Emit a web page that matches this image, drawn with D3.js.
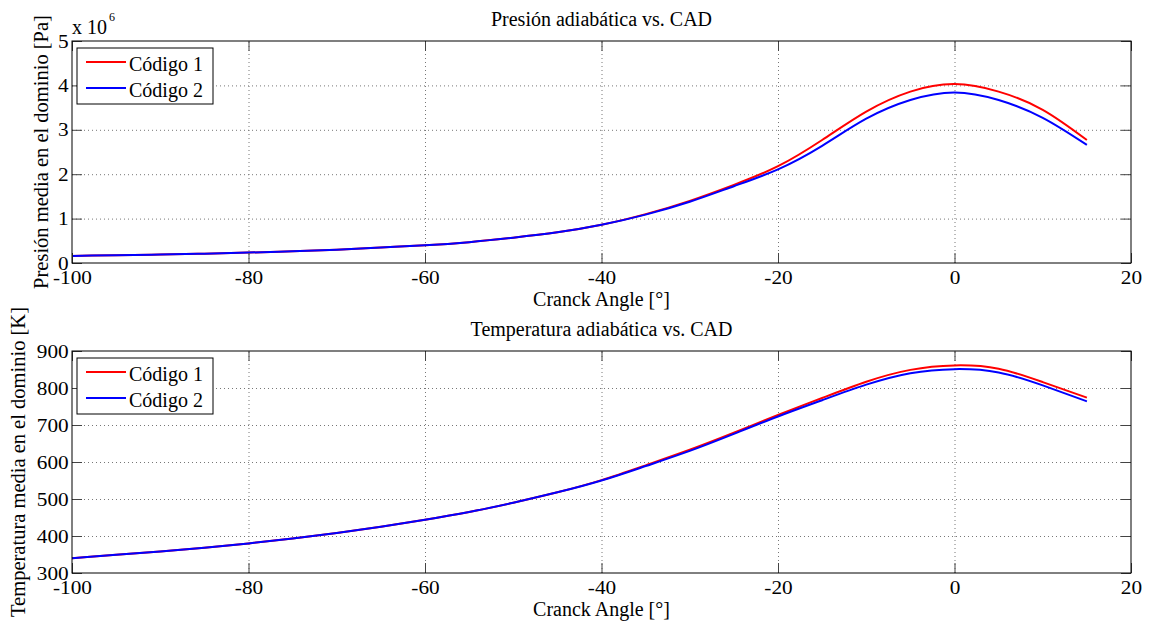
<!DOCTYPE html>
<html>
<head>
<meta charset="utf-8">
<script src="https://cdn.jsdelivr.net/npm/d3@7"></script>
<style>
  body { margin: 0; background: #fff; }
  svg text { font-family: "Liberation Serif", "Times New Roman", serif !important; fill: #000; }
</style>
</head>
<body>
<svg id="chart" width="1149" height="623"></svg>
<script>
// crank angle [deg]
const crankAngle = [-100, -95, -90, -85, -80, -75, -70, -65, -60, -55, -50, -45, -40, -35, -30, -25, -20, -15, -10, -5, 0, 5, 10, 15];
// mean pressure, x 10^6 Pa
const presionCodigo1 = [0.16, 0.175, 0.19, 0.21, 0.235, 0.265, 0.30, 0.35, 0.40, 0.47, 0.57, 0.69, 0.86, 1.10, 1.40, 1.76, 2.18, 2.77, 3.41, 3.86, 4.03, 3.86, 3.45, 2.77];
const presionCodigo2 = [0.16, 0.175, 0.19, 0.21, 0.235, 0.265, 0.30, 0.35, 0.40, 0.47, 0.57, 0.69, 0.86, 1.09, 1.38, 1.73, 2.11, 2.64, 3.25, 3.67, 3.84, 3.67, 3.27, 2.66];
// mean temperature [K]
const tempCodigo1 = [340, 349, 358, 368, 380, 393, 408, 425, 444, 465, 490, 518, 551, 591, 633, 679, 727, 773, 817, 849, 861, 852, 816, 774];
const tempCodigo2 = [340, 349, 358, 368, 380, 393, 408, 425, 444, 465, 490, 518, 550, 589, 630, 676, 723, 767, 809, 840, 851, 842, 807, 764];

const xTicks = [-100, -80, -60, -40, -20, 0, 20];
const presionTicks = [0, 1, 2, 3, 4, 5];
const tempTicks = [300, 400, 500, 600, 700, 800, 900];
const seriesNames = ["Código 1", "Código 2"];
const seriesColors = ["#ff0000", "#0000ff"];

const svg = d3.select("#chart");
const left = 72, right = 1131;
const serif = '"Liberation Serif", "Times New Roman", serif';

function drawPanel(cfg) {
    const x = d3.scaleLinear().domain([-100, 20]).range([left, right]);
    const y = d3.scaleLinear().domain(cfg.yDomain).range([cfg.bottom, cfg.top]);
    const g = svg.append("g");
    const height = cfg.bottom - cfg.top;
    const width = right - left;

    // dotted grid
    g.append("g")
        .attr("transform", `translate(0,${cfg.bottom})`)
        .call(d3.axisBottom(x).tickValues(xTicks.slice(1, -1)).tickSize(-height).tickFormat(""))
        .call(a => a.select(".domain").remove())
        .selectAll("line").attr("stroke", "#777").attr("stroke-dasharray", "1,3");
    g.append("g")
        .attr("transform", `translate(${left},0)`)
        .call(d3.axisLeft(y).tickValues(cfg.yTicks.slice(1, -1)).tickSize(-width).tickFormat(""))
        .call(a => a.select(".domain").remove())
        .selectAll("line").attr("stroke", "#777").attr("stroke-dasharray", "1,3");

    // lines
    const line = d3.line()
        .x((d, i) => x(crankAngle[i]))
        .y(d => y(d))
        .curve(d3.curveNatural);
    cfg.series.forEach((s, i) => {
        g.append("path")
            .datum(s)
            .attr("d", line)
            .attr("fill", "none")
            .attr("stroke", seriesColors[i])
            .attr("stroke-width", 2);
    });

    // axes with inward ticks
    const xb = g.append("g")
        .attr("transform", `translate(0,${cfg.bottom})`)
        .call(d3.axisBottom(x).tickValues(xTicks).tickSize(-10).tickPadding(8).tickFormat(d => d < 0 ? "-" + Math.abs(d) : d));
    const yl = g.append("g")
        .attr("transform", `translate(${left},0)`)
        .call(d3.axisLeft(y).tickValues(cfg.yTicks).tickSize(-10).tickPadding(3).tickFormat(d3.format("d")));
    g.append("g")
        .attr("transform", `translate(0,${cfg.top})`)
        .call(d3.axisTop(x).tickValues(xTicks).tickSize(-10).tickFormat(""));
    g.append("g")
        .attr("transform", `translate(${right},0)`)
        .call(d3.axisRight(y).tickValues(cfg.yTicks).tickSize(-10).tickFormat(""));
    g.selectAll(".domain").remove();
    g.selectAll("g").attr("font-family", serif);
    g.selectAll(".tick line").filter(function () { return !this.getAttribute("stroke-dasharray"); })
        .attr("stroke", "#444");
    [xb, yl].forEach(a => a.selectAll("text")
        .style("font-family", serif)
        .style("font-size", "19px")
        .attr("fill", "#000")
        .attr("transform", "scale(1.12,1)"));

    // box
    g.append("rect")
        .attr("x", left).attr("y", cfg.top)
        .attr("width", width).attr("height", height)
        .attr("fill", "none").attr("stroke", "#000").attr("stroke-width", 1);

    // title and labels
    g.append("text")
        .attr("x", (left + right) / 2).attr("y", cfg.top - 15)
        .attr("text-anchor", "middle").attr("font-size", 20)
        .text(cfg.title);
    g.append("text")
        .attr("x", (left + right) / 2).attr("y", cfg.bottom + 43)
        .attr("text-anchor", "middle").attr("font-size", 20)
        .text("Cranck Angle [°]");
    g.append("text")
        .attr("transform", `translate(${cfg.ylabelX},${(cfg.top + cfg.bottom) / 2}) rotate(-90)`)
        .attr("text-anchor", "middle").attr("font-size", 20.5)
        .text(cfg.ylabel);

    if (cfg.exponent) {
        g.append("text").attr("x", 72).attr("y", 34).attr("font-size", 20).text("x 10");
        g.append("text").attr("x", 109).attr("y", 21).attr("font-size", 12).text(cfg.exponent);
    }

    // legend
    const lg = g.append("g").attr("transform", `translate(77,${cfg.top + 7})`);
    lg.append("rect").attr("width", 136).attr("height", 56)
        .attr("fill", "#fff").attr("stroke", "#000").attr("stroke-width", 1);
    seriesNames.forEach((name, i) => {
        lg.append("line")
            .attr("x1", 9).attr("x2", 49)
            .attr("y1", 14 + i * 26).attr("y2", 14 + i * 26)
            .attr("stroke", seriesColors[i]).attr("stroke-width", 2);
        lg.append("text")
            .attr("x", 52).attr("y", 23 + i * 26)
            .attr("font-size", 20)
            .text(name);
    });
}

drawPanel({
    top: 41, bottom: 263,
    yDomain: [0, 5], yTicks: presionTicks,
    series: [presionCodigo1, presionCodigo2],
    title: "Presión adiabática vs. CAD",
    ylabel: "Presión media en el dominio [Pa]",
    ylabelX: 48,
    exponent: "6"
});

drawPanel({
    top: 351, bottom: 573,
    yDomain: [300, 900], yTicks: tempTicks,
    series: [tempCodigo1, tempCodigo2],
    title: "Temperatura adiabática vs. CAD",
    ylabel: "Temperatura media en el dominio [K]",
    ylabelX: 25
});
</script>
</body>
</html>
